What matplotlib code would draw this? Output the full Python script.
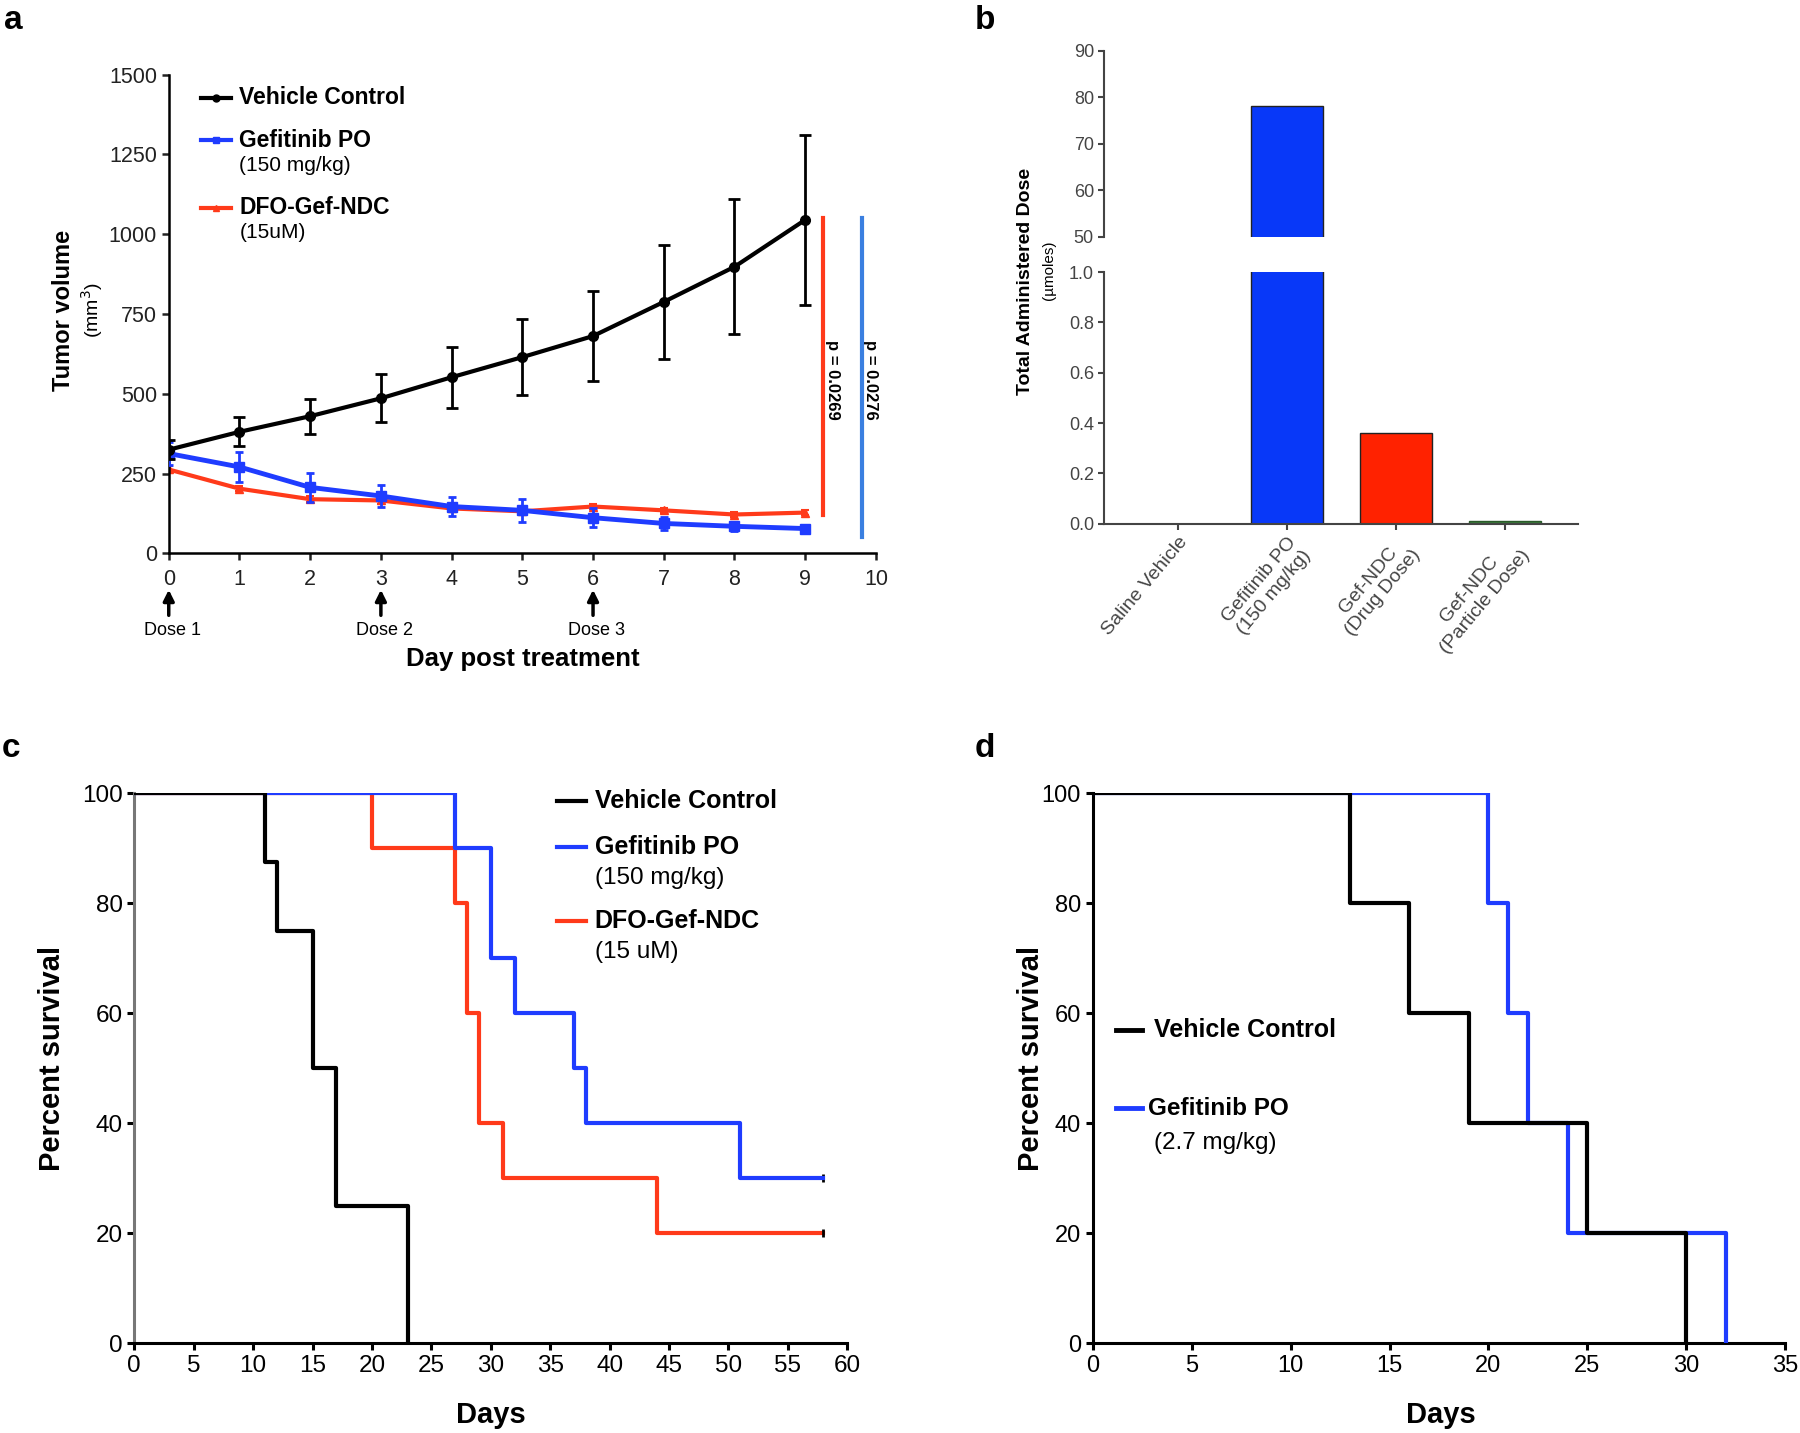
import matplotlib
matplotlib.use('Agg')
import matplotlib.pyplot as plt
from matplotlib.lines import Line2D

plt.rcParams['font.family'] = ['Liberation Sans', 'DejaVu Sans']

# ---- panel a: tumour volume ----
days = list(range(10))
veh_mean = [325, 381, 430, 486, 552, 615, 681, 788, 898, 1045]
veh_err = [30, 45, 55, 75, 95, 118, 140, 178, 212, 267]
gef_mean = [313, 271, 207, 180, 147, 135, 112, 94, 85, 78]
gef_err = [35, 48, 45, 35, 30, 35, 30, 20, 15, 10]
ndc_mean = [263, 203, 170, 166, 141, 132, 147, 135, 122, 128]
ndc_err = [10, 8, 10, 12, 8, 8, 8, 8, 8, 8]
dose_days = [0, 3, 6]
dose_labels = ['Dose 1', 'Dose 2', 'Dose 3']
p_labels = ['p = 0.0269', 'p = 0.0276']
p_lows = [120, 50]

# ---- panel b: administered dose ----
dose_cats = ['Saline Vehicle', 'Gefitinib PO\n(150 mg/kg)',
             'Gef-NDC\n(Drug Dose)', 'Gef-NDC\n(Particle Dose)']
dose_vals = [0, 78, 0.36, 0.012]

# ---- panel c: survival ----
c_veh_t = [0, 11, 12, 15, 17, 23]
c_veh_s = [100, 87.5, 75, 50, 25, 0]
c_gef_t = [0, 27, 30, 32, 37, 38, 51, 58]
c_gef_s = [100, 90, 70, 60, 50, 40, 30, 30]
c_ndc_t = [0, 20, 27, 28, 29, 31, 44, 58]
c_ndc_s = [100, 90, 80, 60, 40, 30, 20, 20]

# ---- panel d: survival ----
d_veh_t = [0, 13, 16, 19, 25, 30]
d_veh_s = [100, 80, 60, 40, 20, 0]
d_gef_t = [0, 20, 21, 22, 24, 32]
d_gef_s = [100, 80, 60, 40, 20, 0]

BLUE = '#1f3cff'
RED = '#ff3a1a'
W, H = 1568, 1248


def fx(px):
    return px / W


def fy(py):
    return 1 - py / H


def style_axes(ax, lw=1.8, color='black'):
    for s in ['top', 'right']:
        ax.spines[s].set_visible(False)
    for s in ['left', 'bottom']:
        ax.spines[s].set_linewidth(lw)
        ax.spines[s].set_color(color)
    ax.tick_params(width=lw, length=5, direction='out')


fig = plt.figure(figsize=(18, 14.33), dpi=100)

# ================= panel a =================
ax = fig.add_axes([fx(147), fy(482), fx(763) - fx(147), fy(65) - fy(482)])
style_axes(ax)
ax.errorbar(days, veh_mean, yerr=veh_err, color='black', lw=3, marker='o', ms=7,
            capsize=4, elinewidth=2, capthick=2, zorder=4)
ax.errorbar(days, gef_mean, yerr=gef_err, color=BLUE, lw=3.5, marker='s', ms=7,
            capsize=3, elinewidth=2, capthick=2, zorder=3)
ax.errorbar(days, ndc_mean, yerr=ndc_err, color=RED, lw=3, marker='^', ms=6,
            capsize=3, elinewidth=1.5, capthick=1.5, zorder=2)
ax.set_xlim(0, 10)
ax.set_ylim(0, 1500)
ax.set_xticks(range(11))
ax.set_yticks(range(0, 1501, 250))
ax.tick_params(labelsize=15.5, colors='#222222')
ax.tick_params(axis='x', pad=6)

# significance bars
for x, col, lo, lab in zip([9.25, 9.8], [RED, '#3a7fe0'], p_lows, p_labels):
    ax.plot([x, x], [lo, veh_mean[-1] + 5], color=col, lw=3, clip_on=False)
    ax.text(x + 0.13, 545, lab, rotation=270, ha='center', va='center',
            fontsize=12, fontweight='bold')

# dose arrows
for d, lab in zip(dose_days, dose_labels):
    ax.annotate('', xy=(d, -0.07), xytext=(d, -0.135),
                xycoords=('data', 'axes fraction'),
                arrowprops=dict(arrowstyle='-|>', color='black', lw=2.5,
                                mutation_scale=16), annotation_clip=False)
    ax.text(d + 0.05, -0.16, lab, transform=ax.get_xaxis_transform(),
            ha='center', va='center', fontsize=13)

# legend a
for yy, col, mk in [(0.952, 'black', 'o'), (0.863, BLUE, 's'), (0.722, RED, '^')]:
    ax.add_line(Line2D([0.045, 0.088], [yy, yy], color=col, lw=3,
                       transform=ax.transAxes))
    ax.add_line(Line2D([0.0665], [yy], color=col, marker=mk, ms=5,
                       transform=ax.transAxes))
ax.text(0.1, 0.952, 'Vehicle Control', transform=ax.transAxes, va='center',
        fontsize=16.5, fontweight='bold')
ax.text(0.1, 0.863, 'Gefitinib PO', transform=ax.transAxes, va='center',
        fontsize=16.5, fontweight='bold')
ax.text(0.1, 0.811, '(150 mg/kg)', transform=ax.transAxes, va='center', fontsize=15)
ax.text(0.1, 0.722, 'DFO-Gef-NDC', transform=ax.transAxes, va='center',
        fontsize=16.5, fontweight='bold')
ax.text(0.1, 0.671, '(15uM)', transform=ax.transAxes, va='center', fontsize=15)

fig.text(fx(455), fy(574), 'Day post treatment', ha='center', va='center',
         fontsize=18.5, fontweight='bold')
fig.text(fx(55), fy(270), 'Tumor volume', rotation=90, ha='center', va='center',
         fontsize=17, fontweight='bold')
fig.text(fx(80), fy(270), '(mm$^3$)', rotation=90, ha='center', va='center',
         fontsize=14)

# ================= panel b =================
xs = list(range(len(dose_cats)))
bar_cols = ['white', '#0838f8', '#ff2200', '#3b7a3b']
left, right = fx(962), fx(1375)
ax_lo = fig.add_axes([left, fy(456), right - left, fy(237) - fy(456)])
ax_hi = fig.add_axes([left, fy(206), right - left, fy(44) - fy(206)])
for a in (ax_lo, ax_hi):
    style_axes(a, lw=1.5, color='#444444')
    a.bar(xs, dose_vals, width=0.66, color=bar_cols, edgecolor='#222222', lw=1)
    a.set_xlim(-0.674, 3.674)
    a.tick_params(labelsize=13, colors='#444444', length=4)
ax_lo.patches[3].set_edgecolor('#2a5a2a')
ax_lo.set_ylim(0, 1.0)
ax_lo.set_yticks([0, 0.2, 0.4, 0.6, 0.8, 1.0])
ax_lo.set_yticklabels(['0.0', '0.2', '0.4', '0.6', '0.8', '1.0'])
ax_hi.set_ylim(50, 90)
ax_hi.set_yticks(range(50, 91, 10))
ax_hi.spines['bottom'].set_visible(False)
ax_hi.set_xticks([])
ax_lo.set_xticks(xs)
ax_lo.set_xticklabels(dose_cats, rotation=50, ha='right', rotation_mode='anchor',
                      fontsize=14, color='#444444', multialignment='center')
fig.text(fx(893), fy(245), 'Total Administered Dose', rotation=90, ha='center',
         va='center', fontsize=14, fontweight='bold')
fig.text(fx(914), fy(235), '(µmoles)', rotation=90, ha='center', va='center',
         fontsize=11)

# ================= panel c =================
axc = fig.add_axes([fx(117), fy(1170), fx(738) - fx(117), fy(691) - fy(1170)])
style_axes(axc, lw=2.2)
axc.spines['left'].set_color('#777777')
axc.step(c_ndc_t, c_ndc_s, where='post', color=RED, lw=3, zorder=2)
axc.step(c_gef_t, c_gef_s, where='post', color=BLUE, lw=3, zorder=3)
axc.step(c_veh_t, c_veh_s, where='post', color='black', lw=3, zorder=4)
axc.plot([c_gef_t[-1]], [c_gef_s[-1]], marker='|', color='black', ms=6, mew=2)
axc.plot([c_ndc_t[-1]], [c_ndc_s[-1]], marker='|', color='black', ms=6, mew=2)
axc.set_xlim(0, 60)
axc.set_ylim(0, 100)
axc.set_xticks(range(0, 61, 5))
axc.set_yticks(range(0, 101, 20))
axc.tick_params(labelsize=17.5)
for yy, col in [(0.987, 'black'), (0.902, BLUE), (0.768, RED)]:
    axc.add_line(Line2D([0.593, 0.633], [yy, yy], color=col, lw=3,
                        transform=axc.transAxes))
axc.text(0.646, 0.987, 'Vehicle Control', transform=axc.transAxes, va='center',
         fontsize=18, fontweight='bold')
axc.text(0.646, 0.902, 'Gefitinib PO', transform=axc.transAxes, va='center',
         fontsize=18, fontweight='bold')
axc.text(0.646, 0.846, '(150 mg/kg)', transform=axc.transAxes, va='center',
         fontsize=17.5)
axc.text(0.646, 0.768, 'DFO-Gef-NDC', transform=axc.transAxes, va='center',
         fontsize=18, fontweight='bold')
axc.text(0.646, 0.712, '(15 uM)', transform=axc.transAxes, va='center',
         fontsize=17.5)
fig.text(fx(45), fy(922), 'Percent survival', rotation=90, ha='center',
         va='center', fontsize=21, fontweight='bold')
fig.text(fx(428), fy(1232), 'Days', ha='center', va='center', fontsize=21,
         fontweight='bold')

# ================= panel d =================
axd = fig.add_axes([fx(952), fy(1170), fx(1555) - fx(952), fy(691) - fy(1170)])
style_axes(axd, lw=2.2)
axd.step(d_gef_t, d_gef_s, where='post', color=BLUE, lw=3, zorder=3)
axd.step(d_veh_t, d_veh_s, where='post', color='black', lw=3, zorder=4)
axd.set_xlim(0, 35)
axd.set_ylim(0, 100)
axd.set_xticks(range(0, 36, 5))
axd.set_yticks(range(0, 101, 20))
axd.tick_params(labelsize=17)
for yy, col in [(0.570, 'black'), (0.428, BLUE)]:
    axd.add_line(Line2D([0.033, 0.071], [yy, yy], color=col, lw=3.5,
                        transform=axd.transAxes))
axd.text(0.088, 0.570, 'Vehicle Control', transform=axd.transAxes, va='center',
         fontsize=18, fontweight='bold')
axd.text(0.080, 0.428, 'Gefitinib PO', transform=axd.transAxes, va='center',
         fontsize=17.5, fontweight='bold')
axd.text(0.088, 0.365, '(2.7 mg/kg)', transform=axd.transAxes, va='center',
         fontsize=17.5)
fig.text(fx(898), fy(922), 'Percent survival', rotation=90, ha='center',
         va='center', fontsize=21, fontweight='bold')
fig.text(fx(1255), fy(1232), 'Days', ha='center', va='center', fontsize=21,
         fontweight='bold')

# panel letters
for lab, px, py in [('a', 12, 18), ('b', 858, 18), ('c', 10, 652), ('d', 858, 652)]:
    fig.text(fx(px), fy(py), lab, ha='center', va='center', fontsize=24,
             fontweight='bold')

fig.savefig('out.png', dpi=100)
